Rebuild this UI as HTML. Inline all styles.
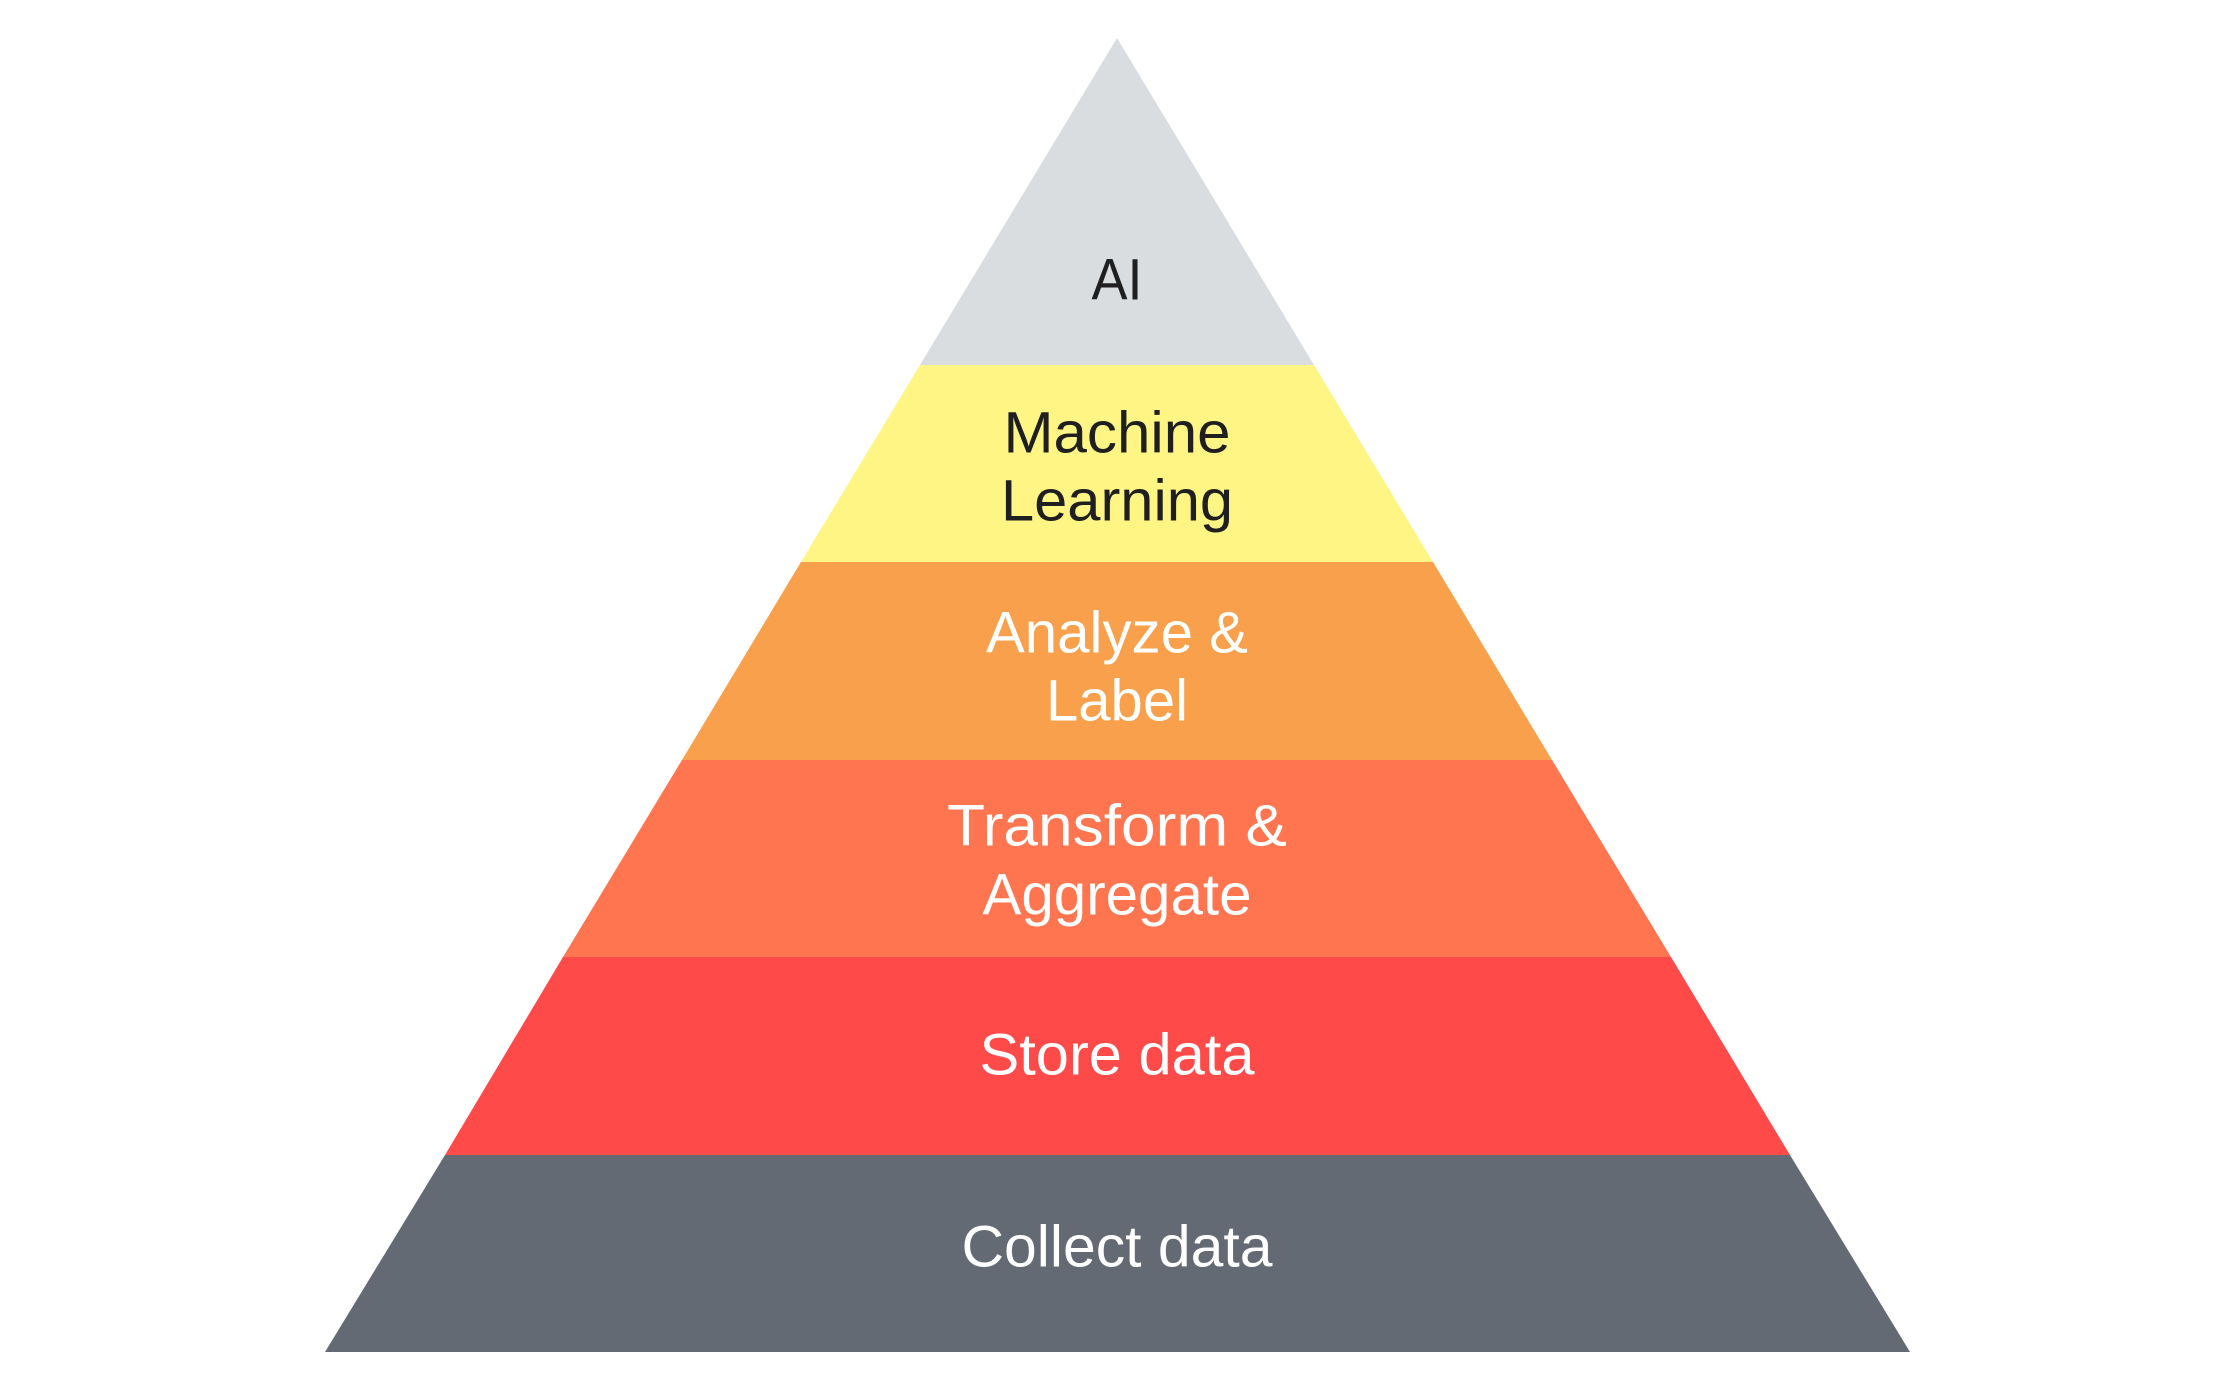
<!DOCTYPE html>
<html><head><meta charset="utf-8"><style>html,body{margin:0;padding:0;background:#fff}svg{display:block}</style></head>
<body>
<svg width="2220" height="1388" viewBox="0 0 2220 1388" xmlns="http://www.w3.org/2000/svg">
<polygon points="1117,38 1314,365 920,365" fill="#DADDE0"/>
<polygon points="920,365 1314,365 1433,562 801,562" fill="#FEF585"/>
<polygon points="801,562 1433,562 1552,760 682,760" fill="#F8A04B"/>
<polygon points="682,760 1552,760 1671,957 563,957" fill="#FF7550"/>
<polygon points="563,957 1671,957 1790,1155 445,1155" fill="#FF4A4A"/>
<polygon points="445,1155 1790,1155 1910,1352 325,1352" fill="#636A73"/>
<g font-family="Liberation Sans, sans-serif" font-size="58" text-anchor="middle" dominant-baseline="central">
<text x="1117" y="280" fill="#1f1f1f" textLength="51" lengthAdjust="spacingAndGlyphs">AI</text>
<text x="1117" y="433" fill="#1f1f1f" textLength="227" lengthAdjust="spacingAndGlyphs">Machine</text>
<text x="1117" y="501" fill="#1f1f1f" textLength="232" lengthAdjust="spacingAndGlyphs">Learning</text>
<text x="1117" y="633" fill="#fff" textLength="262" lengthAdjust="spacingAndGlyphs">Analyze &amp;</text>
<text x="1117" y="701" fill="#fff" textLength="142" lengthAdjust="spacingAndGlyphs">Label</text>
<text x="1117" y="826" fill="#fff" textLength="340" lengthAdjust="spacingAndGlyphs">Transform &amp;</text>
<text x="1117" y="895" fill="#fff" textLength="269" lengthAdjust="spacingAndGlyphs">Aggregate</text>
<text x="1117" y="1055" fill="#fff" textLength="275" lengthAdjust="spacingAndGlyphs">Store data</text>
<text x="1117" y="1247" fill="#fff" textLength="311" lengthAdjust="spacingAndGlyphs">Collect data</text>
</g>
</svg>
</body></html>
